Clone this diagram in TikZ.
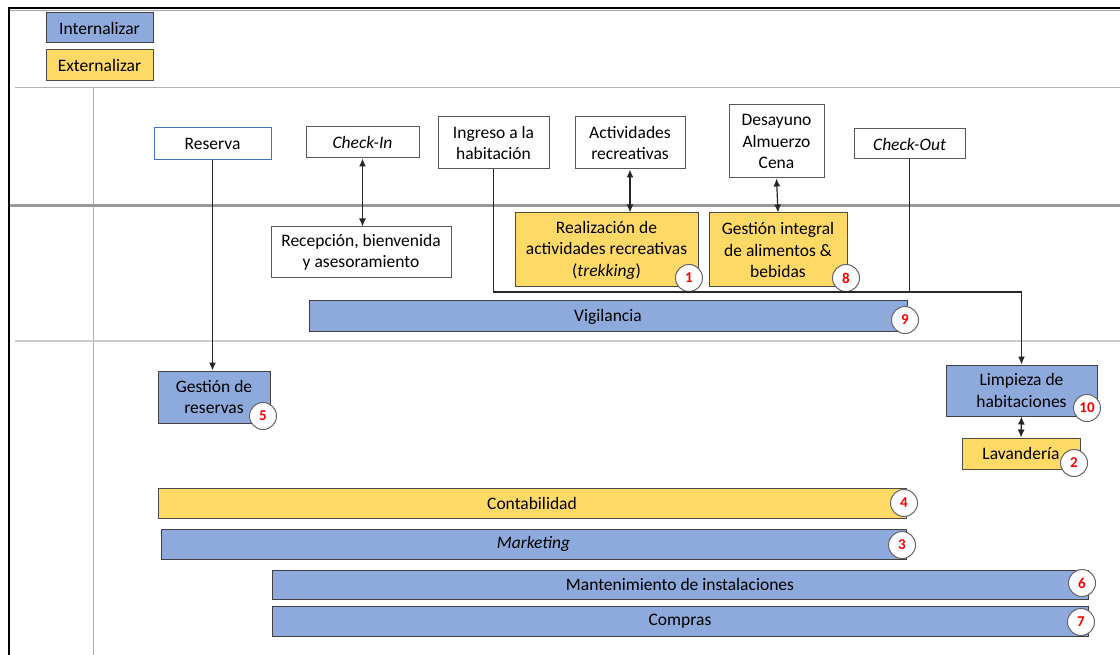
\documentclass[tikz,border=0pt]{standalone}
\usepackage{fontspec}
\setmainfont{Carlito}
\usepackage{xcolor}
\usetikzlibrary{arrows.meta}
\definecolor{intblue}{HTML}{8EA9DB}
\definecolor{extyellow}{HTML}{FFD966}
\definecolor{boxline}{HTML}{595959}
\definecolor{resline}{HTML}{4472C4}
\tikzset{
  whitebox/.style={draw=boxline, fill=white, align=center, inner sep=2pt, line width=1pt, font=\fontsize{17.5}{21.5}\selectfont},
  intbox/.style={whitebox, draw=black!75, fill=intblue},
  extbox/.style={whitebox, draw=black!70, fill=extyellow},
  badge/.style={circle, draw=black!60, fill=white, line width=1pt, minimum size=27pt, inner sep=0pt, text=red, font=\bfseries\fontsize{15}{15}\selectfont},
  link/.style={line width=1.2pt, black!85},
  tip/.style={-{Latex[length=8pt,width=7pt]}},
  twotips/.style={{Latex[length=8pt,width=7pt]}-{Latex[length=8pt,width=7pt]}},
}

\begin{document}
\begin{tikzpicture}[x=1pt,y=-1pt]
\useasboundingbox (0,0) rectangle (1120,655);
% lanes
\draw[black!30, line width=1pt] (15,88) -- (1120,88);
\draw[black!30, line width=1pt] (93,88) -- (93,655);
\draw[black!40, line width=3pt] (10,206) -- (1120,206);
\draw[black!20, line width=1.5pt] (15,341) -- (1120,341);
% frame
\draw[black, line width=2.5pt] (9,655) -- (9,8) -- (1120,8);
\draw[black!35, line width=1pt] (10,10.5) -- (1120,10.5);

% legend
\node[intbox, minimum width=107pt, minimum height=30pt] (internalizar) at (99.5,28) {Internalizar};
\node[extbox, minimum width=107pt, minimum height=31pt] (externalizar) at (99.5,65.5) {Externalizar};

% customer steps
\node[whitebox, draw=resline, minimum width=117pt, minimum height=32pt] (reserva) at (212.5,144) {Reserva};
\node[whitebox, minimum width=113pt, minimum height=31pt] (checkin) at (362.5,142.5) {\textit{Check-In}};
\node[whitebox, minimum width=111pt, minimum height=52pt] (ingreso) at (493.5,143) {Ingreso a la\\habitación};
\node[whitebox, minimum width=110pt, minimum height=52pt] (actividades) at (630,143) {Actividades\\recreativas};
\node[whitebox, minimum width=95pt, minimum height=73pt] (comidas) at (776.5,141.5) {Desayuno\\Almuerzo\\Cena};
\node[whitebox, minimum width=111pt, minimum height=30pt] (checkout) at (909.5,144) {\textit{Check-Out}};

% front office
\node[whitebox, minimum width=180pt, minimum height=51pt] (recepcion) at (361,252.5) {Recepción, bienvenida\\y asesoramiento};
\node[extbox, minimum width=183pt, minimum height=74pt] (trekking) at (606.5,250) {Realización de\\actividades recreativas\\(\textit{trekking})};
\node[extbox, minimum width=138pt, minimum height=74pt] (alimentos) at (778,250) {Gestión integral\\de alimentos \&\\bebidas};
\node[intbox, minimum width=598pt, minimum height=31pt] (vigilancia) at (608,316.5) {Vigilancia};

% back office
\node[intbox, minimum width=112pt, minimum height=52pt] (gestreservas) at (214,397) {Gestión de\\reservas};
\node[intbox, minimum width=151pt, minimum height=51pt] (limpieza) at (1021.5,390.5) {Limpieza de\\habitaciones};
\node[extbox, minimum width=118pt, minimum height=31pt] (lavanderia) at (1021,453.5) {Lavandería};
\node[extbox, minimum width=748pt, minimum height=30pt] (contabilidad) at (532,503) {Contabilidad};
\node[intbox, minimum width=745pt, minimum height=30pt] (marketing) at (533.5,544) {\textit{Marketing}};
\node[intbox, minimum width=816pt, minimum height=29pt] (mantenimiento) at (680,584.5) {Mantenimiento de instalaciones};
\node[intbox, minimum width=816pt, minimum height=30pt] (compras) at (680,621) {Compras};

% badges
\node[badge] (b1) at (689,278) {1};
\node[badge] (b8) at (846,278) {8};
\node[badge] (b9) at (905,320) {9};
\node[badge] (b5) at (263,416) {5};
\node[badge] (b10) at (1087,408) {10};
\node[badge] (b2) at (1074,463) {2};
\node[badge] (b4) at (904,503) {4};
\node[badge] (b3) at (902,545) {3};
\node[badge] (b6) at (1082,583) {6};
\node[badge] (b7) at (1081,622) {7};

% connectors
\coordinate (corner) at (ingreso.south |- 0,292);
\coordinate (turn) at (limpieza.north |- 0,292);
\draw[link, tip] (reserva.south) -- (gestreservas.north -| reserva.south);
\draw[link, twotips] (checkin.south) -- (recepcion.north -| checkin.south);
\draw[link, twotips] (actividades.south) -- (trekking.north -| actividades.south);
\draw[link, twotips] (comidas.south) -- (alimentos.north);
\draw[link, tip] (ingreso.south) -- (corner) -- (turn) -- (limpieza.north);
\draw[link] (checkout.south) -- (checkout.south |- corner);
\draw[link, twotips] (limpieza.south) -- (lavanderia.north);
\end{tikzpicture}
\end{document}
